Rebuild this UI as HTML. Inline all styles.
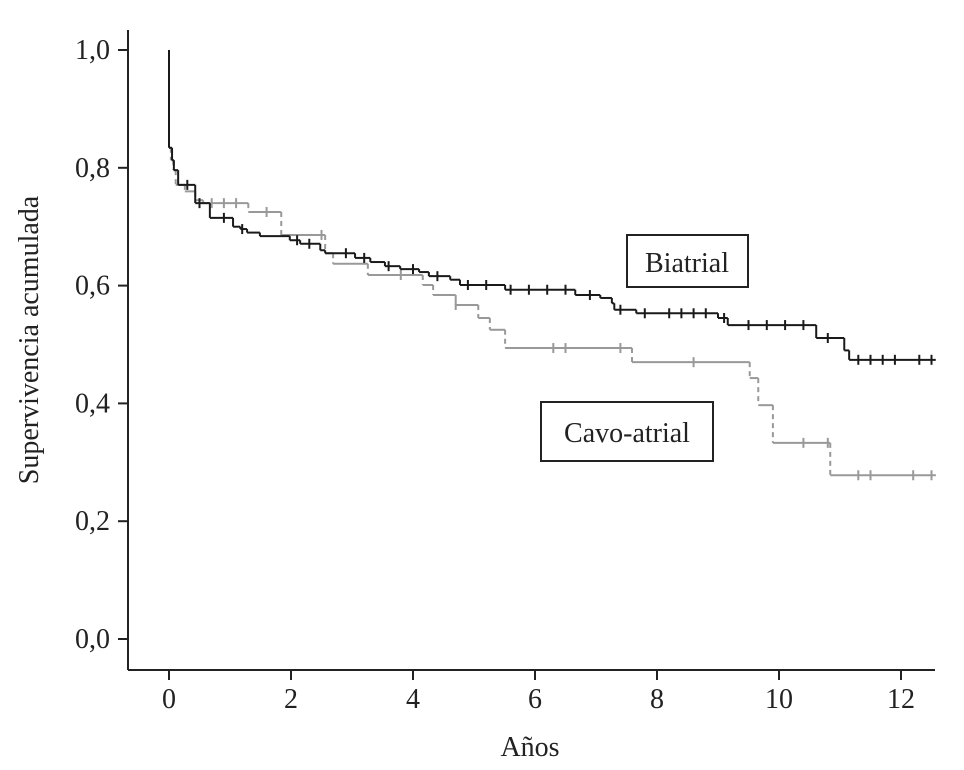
<!DOCTYPE html>
<html><head><meta charset="utf-8"><style>
body{margin:0;background:#fff}
svg text{font-family:"Liberation Serif",serif;fill:#222}
</style></head><body>
<svg width="964" height="765" xmlns="http://www.w3.org/2000/svg">
<g id="axes"></g>
<g id="series"></g>
<rect x="627" y="235" width="121" height="52" fill="#fff" stroke="#222" stroke-width="2"/>
<text x="687" y="272" font-size="28" text-anchor="middle">Biatrial</text>
<rect x="541" y="402" width="172" height="59" fill="#fff" stroke="#222" stroke-width="2"/>
<text x="627" y="442" font-size="28" text-anchor="middle">Cavo-atrial</text>
<text x="530" y="756" font-size="28" text-anchor="middle">Años</text>
<text transform="translate(38,340) rotate(-90)" font-size="28" text-anchor="middle">Supervivencia acumulada</text>
</svg>
<script>
const xTicks=[0,2,4,6,8,10,12];
const yTicks=[0,0.2,0.4,0.6,0.8,1.0];
const yTickLabels=["0,0","0,2","0,4","0,6","0,8","1,0"];
const biaT=[0,0,0.05,0.08,0.15,0.43,0.67,1.05,1.17,1.28,1.49,1.98,2.15,2.48,2.56,3.05,3.3,3.54,3.79,4.1,4.26,4.61,4.77,5.51,6.66,7.07,7.26,7.3,7.66,9.0,9.16,10.61,11.07,11.15,12.57];
const biaS=[1.0,0.834,0.813,0.796,0.771,0.74,0.715,0.70,0.696,0.69,0.684,0.677,0.671,0.66,0.655,0.647,0.64,0.633,0.628,0.623,0.616,0.61,0.601,0.593,0.584,0.579,0.57,0.559,0.553,0.545,0.533,0.511,0.49,0.474,0.474];
const cavT=[0,0,0.03,0.07,0.11,0.26,0.43,0.56,1.3,1.84,2.56,2.69,3.26,4.16,4.33,4.7,5.07,5.26,5.51,7.59,9.52,9.66,9.9,10.84,12.57];
const cavS=[1.0,0.834,0.813,0.796,0.771,0.76,0.745,0.74,0.725,0.686,0.655,0.637,0.618,0.601,0.584,0.567,0.545,0.525,0.494,0.47,0.443,0.397,0.333,0.278,0.278];
const biaCens=[0.3,0.5,0.9,1.2,2.1,2.3,2.9,3.2,3.6,4.0,4.4,4.9,5.2,5.6,5.9,6.2,6.5,6.9,7.4,7.8,8.2,8.4,8.6,8.8,9.1,9.5,9.8,10.1,10.4,10.8,11.3,11.5,11.7,11.9,12.3,12.5];
const cavCens=[0.7,0.9,1.1,1.6,2.5,3.8,4.7,6.3,6.5,7.4,8.6,10.4,10.8,11.3,11.5,12.2,12.5];
const X=v=>169+v*61, Y=v=>639-v*589;
const ns="http://www.w3.org/2000/svg";
function mk(tag,attrs,parent){const e=document.createElementNS(ns,tag);for(const k in attrs)e.setAttribute(k,attrs[k]);parent.appendChild(e);return e;}
const ax=document.getElementById('axes'), se=document.getElementById('series');
let l=mk('line',{x1:128,y1:30,x2:128,y2:670,stroke:'#222','stroke-width':2},ax);


l=mk('line',{x1:128,y1:670,x2:935,y2:670,stroke:'#222','stroke-width':2},ax);


xTicks.forEach(v=>{
 const t=mk('line',{x1:X(v),y1:670,x2:X(v),y2:680,stroke:'#222','stroke-width':2},ax);
 
 
 const tx=mk('text',{x:X(v),y:708,'font-size':28,'text-anchor':'middle'},ax);tx.textContent=v;
 
 
});
yTicks.forEach((v,i)=>{
 const t=mk('line',{x1:118,y1:Y(v),x2:128,y2:Y(v),stroke:'#222','stroke-width':2},ax);
 
 
 const tx=mk('text',{x:110,y:Y(v)+9,'font-size':28,'text-anchor':'end'},ax);tx.textContent=yTickLabels[i];
 
 
});
function stepAt(T,S,t){let s=S[0];for(let i=0;i<T.length;i++){if(T[i]<=t)s=S[i];}return s;}
function drawSeries(T,S,cens,color,dashV,name){
 const g=mk('g',{},se);
 
 
 for(let i=0;i<T.length;i++){
  if(i>0){const v=mk('line',{x1:X(T[i]),y1:Y(S[i-1]),x2:X(T[i]),y2:Y(S[i]),stroke:color,'stroke-width':2},g);if(dashV)v.setAttribute('stroke-dasharray','5,4');}
  if(i<T.length-1){mk('line',{x1:X(T[i]),y1:Y(S[i]),x2:X(T[i+1]),y2:Y(S[i]),stroke:color,'stroke-width':2},g);}
 }
 cens.forEach(c=>{const s=stepAt(T,S,c);mk('line',{x1:X(c),y1:Y(s)-5,x2:X(c),y2:Y(s)+5,stroke:color,'stroke-width':2},g);});
}
drawSeries(cavT,cavS,cavCens,'#999',true,'cavo-atrial-curve');
drawSeries(biaT,biaS,biaCens,'#1a1a1a',false,'biatrial-curve');
</script>
</body></html>
